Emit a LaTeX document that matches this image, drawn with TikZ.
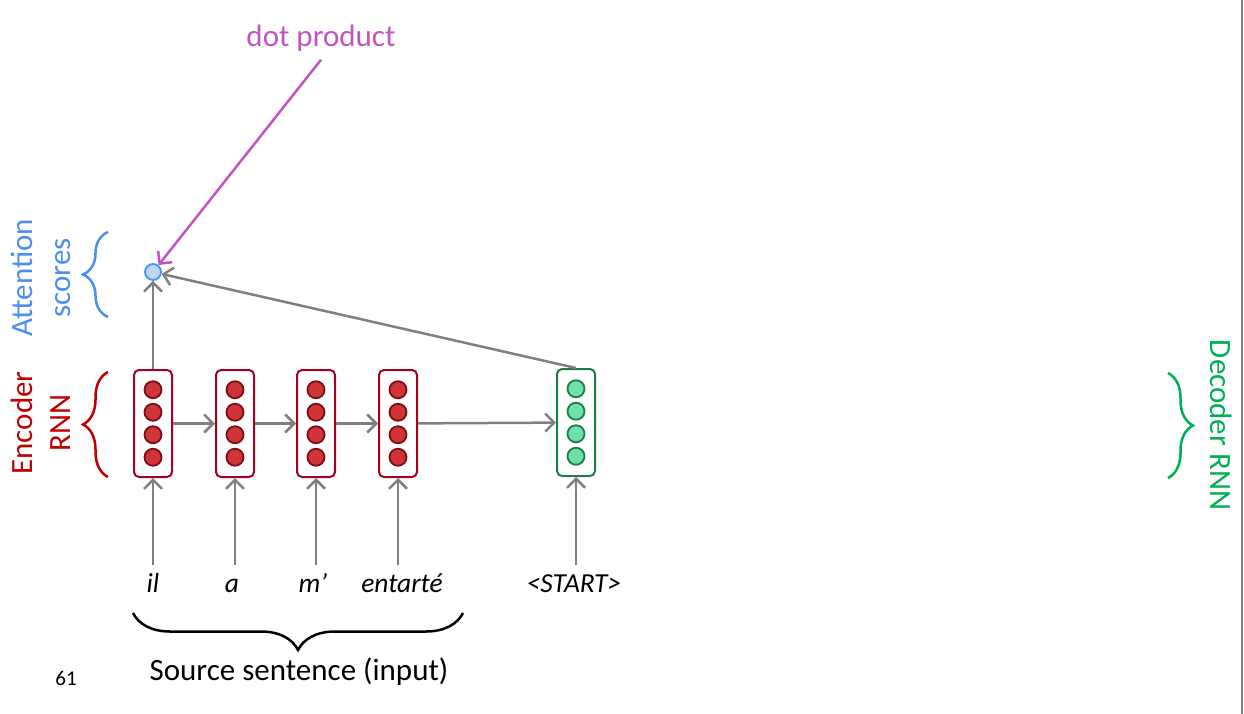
\documentclass[tikz,border=0pt]{standalone}
\usepackage{fontspec}
\setmainfont{Carlito}
\usetikzlibrary{positioning, arrows.meta, calc, decorations.pathreplacing}
\usepackage{xcolor}
\definecolor{encline}{HTML}{A50021}
\definecolor{encfill}{HTML}{D13438}
\definecolor{encdark}{HTML}{7B0E14}
\definecolor{decline}{HTML}{1E7B4C}
\definecolor{decfill}{HTML}{6EE0A8}
\definecolor{labred}{HTML}{C00000}
\definecolor{labgreen}{HTML}{00B050}
\definecolor{labblue}{HTML}{4A8FF0}
\definecolor{attfill}{HTML}{BDD7EE}
\definecolor{dotpink}{HTML}{C055C0}
\definecolor{arrgray}{HTML}{808080}
\newcommand\labfont{\fontsize{31}{38}\selectfont}
\newcommand\wordfont{\fontsize{27.5}{31}\selectfont\itshape}
\newcommand\pagefont{\fontsize{21}{25}\selectfont}

\begin{document}
\begin{tikzpicture}[x=1pt, y=-1pt,
    >={Straight Barb[length=9pt, width=18pt]},
    encbox/.style={draw=encline, rounded corners=5pt, line width=2pt, minimum width=38pt, minimum height=107pt, inner sep=0pt},
    decbox/.style={encbox, draw=decline},
    encdot/.style={circle, draw=encdark, fill=encfill, line width=1.8pt, minimum size=17pt, inner sep=0pt},
    decdot/.style={encdot, draw=decline, fill=decfill},
    flow/.style={->, arrgray, line width=2.5pt},
    word/.style={font=\wordfont, anchor=base},
    bracket/.style={decorate, line width=2.5pt, decoration={brace, amplitude=#1}}]
  \useasboundingbox (0,0) rectangle (1244,714);

  % encoder and decoder states
  \node[encbox] (e1) at (153,423.5) {};
  \node[encbox] (e2) at (235,423.5) {};
  \node[encbox] (e3) at (316,423.5) {};
  \node[encbox] (e4) at (398,423.5) {};
  \node[decbox] (dec) at (576,422.5) {};
  \foreach \b in {e1,e2,e3,e4}
    \foreach \dy in {-33.75,-11.25,11.25,33.75}
      \node[encdot] at ($(\b)+(0,\dy)$) {};
  \foreach \dy in {-33.75,-11.25,11.25,33.75}
    \node[decdot] at ($(dec)+(0,\dy)$) {};

  % attention score
  \node[circle, draw=labblue, fill=attfill, line width=1.8pt, minimum size=16pt, inner sep=0pt] (att) at (153,272) {};
  \node[text=dotpink, font=\labfont] (dp) at (321,38) {dot product};

  % input words
  \node[word] (w1) at (153,592) {il};
  \node[word] (w2) at (232,592) {a};
  \node[word] (w3) at (313,592) {m’};
  \node[word] (w4) at (402,592) {entarté};
  \node[word] (w5) at (574,592) {<START>};

  % arrows
  \draw[flow] (e1) -- (e2);
  \draw[flow] (e2) -- (e3);
  \draw[flow] (e3) -- (e4);
  \draw[flow] (e4) -- (dec);
  \draw[flow] ([yshift=4pt]e1 |- w1.north) -- (e1);
  \draw[flow] ([yshift=4pt]e2 |- w1.north) -- (e2);
  \draw[flow] ([yshift=4pt]e3 |- w1.north) -- (e3);
  \draw[flow] ([yshift=4pt]e4 |- w1.north) -- (e4);
  \draw[flow] ([yshift=4pt]dec |- w1.north) -- (dec);
  \draw[flow] (e1) -- (att);
  \draw[flow] (dec.north) -- (att);
  \draw[->, dotpink, line width=2.5pt] ([yshift=-5pt]dp.south) -- (att);

  % braces and labels
  \draw[bracket=25, labblue] (108,317) -- (108,232);
  \node[rotate=90, align=center, text=labblue, font=\labfont] (attlab) at (41,278) {Attention\\scores};
  \draw[bracket=25, labred] (108,477) -- (108,372);
  \node[rotate=90, align=center, text=labred, font=\labfont] (enclab) at (41,423) {Encoder\\RNN};
  \draw[bracket=25, labgreen] (1168,373) -- (1168,478);
  \node[rotate=-90, text=labgreen, font=\labfont] (declab) at (1221,425) {Decoder RNN};
  \draw[bracket=37, decoration={mirror}, black] (133,613) -- (463,613);
  \node[font=\labfont] (src) at (299,672) {Source sentence (input)};
  \node[font=\pagefont] (page) at (66,678) {61};

  % slide edge
  \draw[arrgray, line width=2pt] (1242,0) -- (1242,714);
\end{tikzpicture}
\end{document}
